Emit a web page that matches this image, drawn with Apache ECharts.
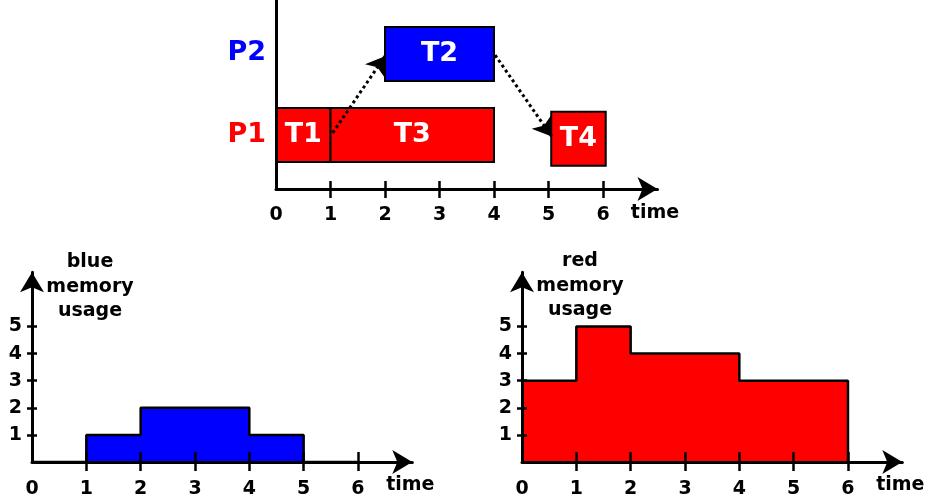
<!DOCTYPE html>
<html><head><meta charset="utf-8">
<script src="https://cdn.jsdelivr.net/npm/echarts@6/dist/echarts.min.js"></script>
<style>html,body{margin:0;padding:0;background:#fff}#c{width:928px;height:502px}</style>
</head><body><div id="c"></div>
<script>
// ---- data ----
const timeLabels = [0, 1, 2, 3, 4, 5, 6];
const timeTickMarks = [1, 2, 3, 4, 5, 6];
const processNames = ['P1', 'P2'];
const processRows = [1, 2.5];
const taskNames = ['T1', 'T2', 'T3', 'T4'];
const taskProcess = ['P1', 'P2', 'P1', 'P1'];
const taskStart = [0, 2, 1, 5.05];
const taskEnd = [1, 4, 4, 6.05];
const taskRow = [1, 2.5, 1, 0.93];
const depFrom = [[1.04, 1.04], [4.02, 2.48]];
const depTo = [[2.0, 2.46], [5.06, 0.97]];
const memTicks = [1, 2, 3, 4, 5];
const blueTime = [0, 1, 2, 4, 5, 6];
const blueMem = [0, 1, 2, 1, 0, 0];
const redTime = [0, 1, 2, 4, 6];
const redMem = [3, 5, 4, 3, 0];

// ---- styles ----
const RED = '#ff0000', BLUE = '#0000ff', BLACK = '#000000';
const FONT = '"DejaVu Sans", sans-serif';
const procColor = { P1: RED, P2: BLUE };
const AXIS_ARROW = [18, 20];

const chart = echarts.init(document.getElementById('c'), null, { renderer: 'canvas' });

function mainX(gi, margin, gap, pad) {
  return {
    gridIndex: gi, type: 'value', min: 0, max: 7, position: 'bottom', z: 5,
    axisLine: { show: true, onZero: false, symbol: ['none', 'arrow'], symbolSize: AXIS_ARROW, lineStyle: { color: BLACK, width: 3 } },
    axisTick: { show: true, customValues: timeTickMarks, length: 9, lineStyle: { color: BLACK, width: 2.5 } },
    axisLabel: { customValues: timeLabels, margin: margin, color: BLACK, fontWeight: 'bold', fontSize: 19, fontFamily: FONT },
    splitLine: { show: false },
    name: 'time', nameLocation: 'end', nameGap: gap,
    nameTextStyle: { align: 'center', verticalAlign: 'top', padding: [pad, 0, 0, 0], color: BLACK, fontWeight: 'bold', fontSize: 19, fontFamily: FONT }
  };
}
function innerX(gi, len) {
  return {
    gridIndex: gi, type: 'value', min: 0, max: 7, position: 'bottom', z: 5,
    axisLine: { show: false, onZero: false },
    axisTick: { show: true, inside: true, customValues: timeTickMarks, length: len, lineStyle: { color: BLACK, width: 2.5 } },
    axisLabel: { show: false }, splitLine: { show: false }
  };
}
function mainY(gi) {
  return {
    gridIndex: gi, type: 'value', min: 0, max: 7, position: 'left', z: 5,
    axisLine: { show: true, onZero: false, symbol: ['none', 'arrow'], symbolSize: AXIS_ARROW, lineStyle: { color: BLACK, width: 3 } },
    axisTick: { show: true, customValues: memTicks, length: 5, lineStyle: { color: BLACK, width: 2.5 } },
    axisLabel: { customValues: memTicks, margin: 10, color: BLACK, fontWeight: 'bold', fontSize: 19, fontFamily: FONT },
    splitLine: { show: false }
  };
}
function innerY(gi) {
  return {
    gridIndex: gi, type: 'value', min: 0, max: 7, position: 'left', z: 5,
    axisLine: { show: false, onZero: false },
    axisTick: { show: true, inside: true, customValues: memTicks, length: 5, lineStyle: { color: BLACK, width: 2.5 } },
    axisLabel: { show: false }, splitLine: { show: false }
  };
}

const taskData = taskNames.map((n, i) => [taskStart[i], taskEnd[i], taskRow[i], i]);

const option = {
  animation: false,
  backgroundColor: '#ffffff',
  grid: [
    { left: 276, top: 0, width: 381.5, height: 189 },
    { left: 32, top: 272.3, width: 380.3, height: 189.7 },
    { left: 522, top: 272.3, width: 380.3, height: 189.7 }
  ],
  xAxis: [
    mainX(0, 17, -2.5, 15), innerX(0, 8),
    mainX(1, 17.5, -2, 14), innerX(1, 10),
    mainX(2, 17.5, -2, 14), innerX(2, 10)
  ],
  yAxis: [
    {
      gridIndex: 0, type: 'value', min: 0, max: 3.5, position: 'left', z: 5,
      axisLine: { show: true, onZero: false, lineStyle: { color: BLACK, width: 3 } },
      axisTick: { show: false }, splitLine: { show: false },
      axisLabel: {
        customValues: processRows, margin: 10,
        formatter: function (v) {
          const idx = processRows.findIndex(r => Math.abs(r - v) < 1e-6);
          const name = processNames[idx];
          return '{' + name + '|' + name + '}';
        },
        rich: {
          P1: { color: procColor.P1, fontWeight: 'bold', fontSize: 27, fontFamily: FONT, padding: [0, 0, 0, 0] },
          P2: { color: procColor.P2, fontWeight: 'bold', fontSize: 27, fontFamily: FONT, padding: [0, 0, 2, 0] }
        }
      }
    },
    mainY(1), innerY(1),
    mainY(2), innerY(2)
  ],
  graphic: [
    { type: 'text', x: 90, y: 287, style: { text: 'blue\nmemory\nusage', align: 'center', verticalAlign: 'middle', lineHeight: 24.5, fill: BLACK, font: 'bold 19px ' + FONT } },
    { type: 'text', x: 580, y: 286, style: { text: 'red\nmemory\nusage', align: 'center', verticalAlign: 'middle', lineHeight: 24.5, fill: BLACK, font: 'bold 19px ' + FONT } }
  ],
  series: [
    {
      type: 'custom', xAxisIndex: 0, yAxisIndex: 0, z: 2,
      encode: { x: [0, 1], y: 2 },
      data: taskData,
      renderItem: function (params, api) {
        const i = api.value(3);
        const s = api.coord([api.value(0), api.value(2) + 0.5]);
        const e = api.coord([api.value(1), api.value(2) - 0.5]);
        return {
          type: 'group', children: [
            { type: 'rect', shape: { x: s[0], y: s[1], width: e[0] - s[0], height: e[1] - s[1] },
              style: { fill: procColor[taskProcess[i]], stroke: BLACK, lineWidth: 2 } },
            { type: 'text', x: (s[0] + e[0]) / 2, y: (s[1] + e[1]) / 2,
              style: { text: taskNames[i], fill: '#ffffff', font: 'bold 27px ' + FONT, align: 'center', verticalAlign: 'middle' } }
          ]
        };
      }
    },
    {
      type: 'lines', coordinateSystem: 'cartesian2d', xAxisIndex: 0, yAxisIndex: 0, z: 3,
      symbol: ['none', 'arrow'], symbolSize: 18, symbolOffset: [[0, 0], [0, 9]],
      lineStyle: { color: BLACK, width: 3, type: 'dotted', opacity: 1, curveness: 0 },
      data: depFrom.map((f, i) => ({ coords: [f, depTo[i]] }))
    },
    {
      type: 'line', xAxisIndex: 2, yAxisIndex: 1, step: 'end', symbol: 'none', z: 2,
      lineStyle: { color: BLACK, width: 2.5 }, itemStyle: { color: BLACK },
      areaStyle: { color: BLUE, opacity: 1 },
      data: blueTime.map((t, i) => [t, blueMem[i]])
    },
    {
      type: 'line', xAxisIndex: 4, yAxisIndex: 3, step: 'end', symbol: 'none', z: 2,
      lineStyle: { color: BLACK, width: 2.5 }, itemStyle: { color: BLACK },
      areaStyle: { color: RED, opacity: 1 },
      data: redTime.map((t, i) => [t, redMem[i]])
    }
  ]
};
chart.setOption(option);
</script></body></html>
